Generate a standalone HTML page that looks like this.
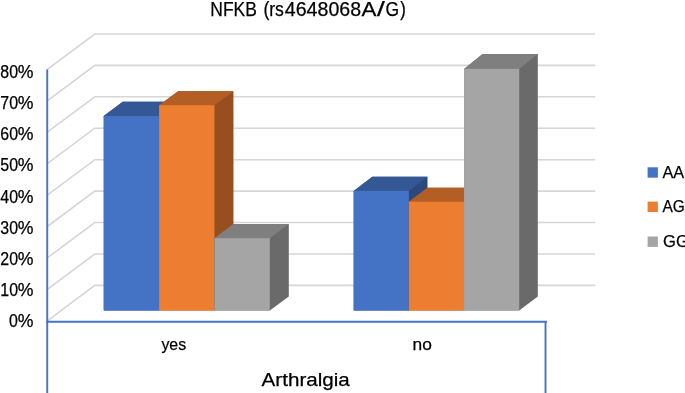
<!DOCTYPE html>
<html><head><meta charset="utf-8"><title>NFKB (rs4648068A/G)</title>
<style>
html,body{margin:0;padding:0;background:#fff;}
body{width:685px;height:393px;overflow:hidden;}
svg{display:block;}
text{font-family:"Liberation Sans",sans-serif;fill:#000;stroke:#000;stroke-width:0.25px;}
</style></head><body>
<svg width="685" height="393" viewBox="0 0 685 393">
<rect width="685" height="393" fill="#fff"/>
<g fill="none" stroke="#D6D6D6" stroke-width="1.6">
<polyline points="47.3,320.8 94.8,285.4 595.2,285.4"/>
<polyline points="47.3,289.4 94.8,254.0 595.2,254.0"/>
<polyline points="47.3,257.9 94.8,222.5 595.2,222.5"/>
<polyline points="47.3,226.5 94.8,191.1 595.2,191.1"/>
<polyline points="47.3,195.1 94.8,159.7 595.2,159.7"/>
<polyline points="47.3,163.6 94.8,128.2 595.2,128.2"/>
<polyline points="47.3,132.2 94.8,96.8 595.2,96.8"/>
<polyline points="47.3,100.8 94.8,65.4 595.2,65.4"/>
<polyline points="47.3,69.4 94.8,34.0 595.2,34.0"/>
</g>
<g stroke="none">
<polygon fill="#2C497D" points="103.75,116.05 122.75,101.75 178.10,101.75 178.10,296.60 159.10,310.50 103.75,310.50"/>
<polygon fill="#345795" points="103.75,116.05 122.75,101.75 178.10,101.75 159.10,116.05 159.10,117.05 103.75,117.05"/>
<rect fill="#4472C4" x="103.75" y="116.05" width="55.35" height="194.45"/>
<polygon fill="#984F1F" points="159.10,105.20 178.10,91.35 233.45,91.35 233.45,296.60 214.45,310.50 159.10,310.50"/>
<polygon fill="#B35E25" points="159.10,105.20 178.10,91.35 233.45,91.35 214.45,105.20 214.45,106.20 159.10,106.20"/>
<rect fill="#ED7D31" x="159.10" y="105.20" width="55.35" height="205.30"/>
<polygon fill="#6A6A6A" points="214.45,238.20 233.45,223.90 288.80,223.90 288.80,296.60 269.80,310.50 214.45,310.50"/>
<polygon fill="#7F7F7F" points="214.45,238.20 233.45,223.90 288.80,223.90 269.80,238.20 269.80,239.20 214.45,239.20"/>
<rect fill="#A5A5A5" x="214.45" y="238.20" width="55.35" height="72.30"/>
<polygon fill="#2C497D" points="353.70,190.90 372.30,176.65 427.47,176.65 427.47,296.60 408.87,310.50 353.70,310.50"/>
<polygon fill="#345795" points="353.70,190.90 372.30,176.65 427.47,176.65 408.87,190.90 408.87,191.90 353.70,191.90"/>
<rect fill="#4472C4" x="353.70" y="190.90" width="55.17" height="119.60"/>
<polygon fill="#984F1F" points="408.87,201.70 427.47,187.65 482.64,187.65 482.64,296.60 464.04,310.50 408.87,310.50"/>
<polygon fill="#B35E25" points="408.87,201.70 427.47,187.65 482.64,187.65 464.04,201.70 464.04,202.70 408.87,202.70"/>
<rect fill="#ED7D31" x="408.87" y="201.70" width="55.17" height="108.80"/>
<polygon fill="#6A6A6A" points="464.04,68.90 482.64,54.05 537.81,54.05 537.81,296.60 519.21,310.50 464.04,310.50"/>
<polygon fill="#7F7F7F" points="464.04,68.90 482.64,54.05 537.81,54.05 519.21,68.90 519.21,69.90 464.04,69.90"/>
<rect fill="#A5A5A5" x="464.04" y="68.90" width="55.17" height="241.60"/>
</g>
<g fill="none" stroke="#4472C4" stroke-width="1.9">
<polyline points="47.25,69.4 47.25,393"/>
<polyline points="46.3,321.8 547.0,321.8"/>
<polyline points="545.5,321.8 545.5,393"/>
</g>
<g font-size="18.2">
<text y="15.6" font-size="19.8"><tspan x="210.3" textLength="46.6" lengthAdjust="spacingAndGlyphs">NFKB</tspan> <tspan x="263.4" textLength="20.54" lengthAdjust="spacingAndGlyphs">(rs</tspan><tspan x="284.8" textLength="76.3" lengthAdjust="spacingAndGlyphs">4648068</tspan><tspan x="361.5" textLength="14.9" lengthAdjust="spacingAndGlyphs">A</tspan><tspan x="377.1" textLength="7.8" lengthAdjust="spacingAndGlyphs">/</tspan><tspan x="385.6" textLength="13.6" lengthAdjust="spacingAndGlyphs">G</tspan><tspan x="400.3" textLength="5.6" lengthAdjust="spacingAndGlyphs">)</tspan></text>
<text y="327.4"><tspan x="9.1" textLength="8.85" lengthAdjust="spacingAndGlyphs">0</tspan><tspan x="17.8" textLength="15.7" lengthAdjust="spacingAndGlyphs">%</tspan></text>
<text y="296.2"><tspan x="0.3" textLength="17.7" lengthAdjust="spacingAndGlyphs">10</tspan><tspan x="17.8" textLength="15.7" lengthAdjust="spacingAndGlyphs">%</tspan></text>
<text y="265.0"><tspan x="0.3" textLength="17.7" lengthAdjust="spacingAndGlyphs">20</tspan><tspan x="17.8" textLength="15.7" lengthAdjust="spacingAndGlyphs">%</tspan></text>
<text y="233.8"><tspan x="0.3" textLength="17.7" lengthAdjust="spacingAndGlyphs">30</tspan><tspan x="17.8" textLength="15.7" lengthAdjust="spacingAndGlyphs">%</tspan></text>
<text y="202.6"><tspan x="0.3" textLength="17.7" lengthAdjust="spacingAndGlyphs">40</tspan><tspan x="17.8" textLength="15.7" lengthAdjust="spacingAndGlyphs">%</tspan></text>
<text y="171.4"><tspan x="0.3" textLength="17.7" lengthAdjust="spacingAndGlyphs">50</tspan><tspan x="17.8" textLength="15.7" lengthAdjust="spacingAndGlyphs">%</tspan></text>
<text y="140.2"><tspan x="0.3" textLength="17.7" lengthAdjust="spacingAndGlyphs">60</tspan><tspan x="17.8" textLength="15.7" lengthAdjust="spacingAndGlyphs">%</tspan></text>
<text y="109.0"><tspan x="0.3" textLength="17.7" lengthAdjust="spacingAndGlyphs">70</tspan><tspan x="17.8" textLength="15.7" lengthAdjust="spacingAndGlyphs">%</tspan></text>
<text y="77.8"><tspan x="0.3" textLength="17.7" lengthAdjust="spacingAndGlyphs">80</tspan><tspan x="17.8" textLength="15.7" lengthAdjust="spacingAndGlyphs">%</tspan></text>
<text x="161.4" y="350" font-size="16.8" textLength="24.67" lengthAdjust="spacingAndGlyphs">yes</text>
<text x="412.5" y="350" font-size="16.8" textLength="19.29" lengthAdjust="spacingAndGlyphs">no</text>
<text x="261.6" y="385.8" textLength="88.2" lengthAdjust="spacingAndGlyphs">Arthralgia</text>
<text x="662.4" y="177.7" font-size="17" textLength="21.8" lengthAdjust="spacingAndGlyphs">AA</text>
<text x="662.4" y="211.7" font-size="17" textLength="22.4" lengthAdjust="spacingAndGlyphs">AG</text>
<text x="663" y="246.6" font-size="17" textLength="25.8" lengthAdjust="spacingAndGlyphs">GG</text>
</g>
<rect x="647.6" y="167.3" width="10.3" height="10.4" fill="#4472C4"/>
<rect x="647.6" y="201.6" width="10.3" height="10.4" fill="#ED7D31"/>
<rect x="647.6" y="236.5" width="10.3" height="10.4" fill="#A5A5A5"/>
</svg>
</body></html>
